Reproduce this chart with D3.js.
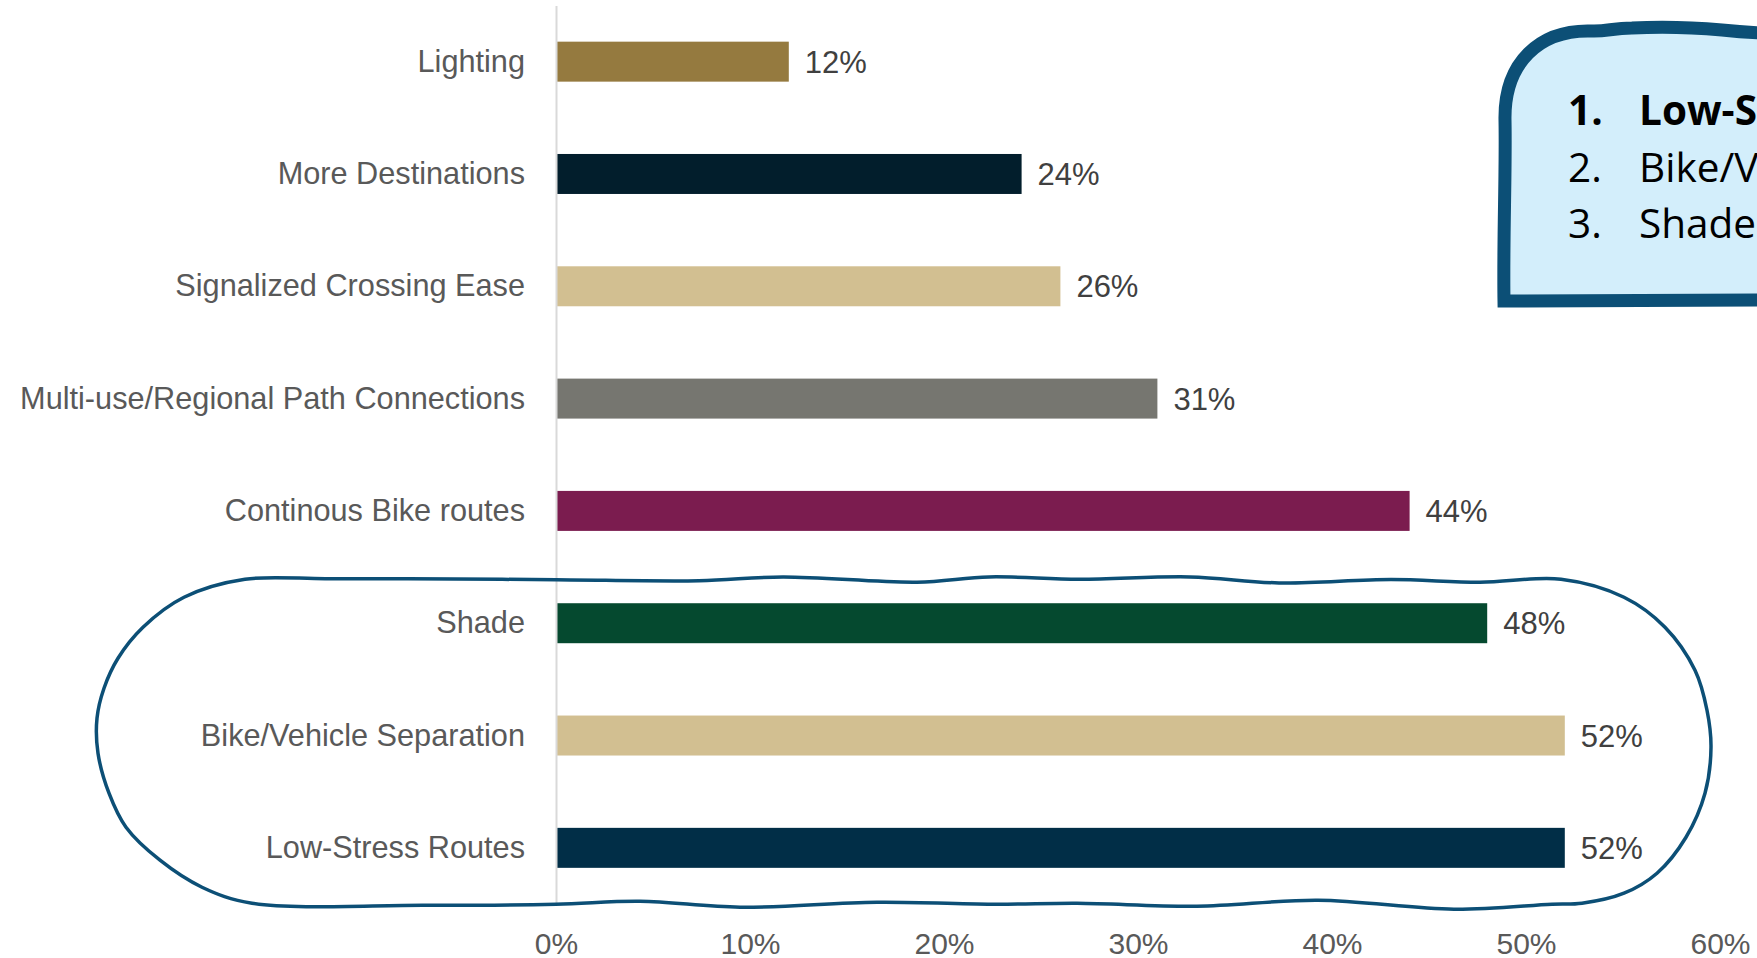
<!DOCTYPE html>
<html>
<head>
<meta charset="utf-8">
<script src="https://cdn.jsdelivr.net/npm/d3@7"></script>
<style>
  html, body { margin: 0; padding: 0; background: #ffffff; overflow: hidden; }
  svg { display: block; }
</style>
</head>
<body>
<svg id="chart" width="1757" height="958"></svg>
<script>
// ---------------- data ----------------
const categories = [
  "Lighting",
  "More Destinations",
  "Signalized Crossing Ease",
  "Multi-use/Regional Path Connections",
  "Continous Bike routes",
  "Shade",
  "Bike/Vehicle Separation",
  "Low-Stress Routes"
];
const values = [12, 24, 26, 31, 44, 48, 52, 52];
const barColors = ["#957A3F", "#021E2C", "#D2BF91", "#767670", "#7B1C4F", "#05492F", "#D2BF91", "#012E47"];
const xTicks = [0, 10, 20, 30, 40, 50, 60];
const calloutItems = ["Low-Stress Routes", "Bike/Vehicle Separation", "Shade"];

// ---------------- layout ----------------
const W = 1757, H = 958;
const svg = d3.select("#chart");
const font = "'Liberation Sans', Arial, sans-serif";

const x = d3.scaleLinear().domain([0, 60]).range([556, 1720]);
const y = d3.scaleBand().domain(categories).range([5.5, 904])
  .paddingInner(0.644).paddingOuter(0.322);

// callout box (top right)
const box = svg.append("g");
box.append("path")
  .attr("d", "M1504,301 C1503,240 1506,170 1505,120 C1504,62 1540,30 1590,31 C1606,32 1612,28 1632,28 C1668,26 1700,28 1722,30 C1740,32 1750,33 1775,33 L1775,300 L1504,301 Z")
  .attr("fill", "#D3EEFB")
  .attr("stroke", "#0C4F76")
  .attr("stroke-width", 13)
  .attr("stroke-linejoin", "miter");

const boxFont = "'Open Sans', 'Noto Sans', sans-serif";
calloutItems.forEach((t, i) => {
  const by = 125 + i * 56.5;
  box.append("text").attr("x", 1568).attr("y", by)
    .attr("font-family", boxFont).attr("font-size", 40.5)
    .attr("font-weight", i === 0 ? 700 : 400).attr("fill", "#000")
    .text((i + 1) + ".");
  box.append("text").attr("x", 1639).attr("y", by)
    .attr("font-family", boxFont).attr("font-size", 40.5)
    .attr("font-weight", i === 0 ? 700 : 400).attr("fill", "#000")
    .text(t);
});

// bars
svg.append("g").selectAll("rect")
  .data(values)
  .join("rect")
  .attr("x", x(0) + 1)
  .attr("y", (d, i) => y(categories[i]))
  .attr("width", d => x(d) - x(0) - 1)
  .attr("height", y.bandwidth())
  .attr("fill", (d, i) => barColors[i]);

// value labels
svg.append("g").selectAll("text")
  .data(values)
  .join("text")
  .attr("x", d => x(d) + 16)
  .attr("y", (d, i) => y(categories[i]) + y.bandwidth() / 2)
  .attr("dy", "0.36em")
  .attr("font-family", font)
  .attr("font-size", 31)
  .attr("fill", "#404040")
  .text(d => d + "%");

// y axis
const yAxis = svg.append("g")
  .attr("transform", `translate(${x(0)},0)`)
  .call(d3.axisLeft(y).tickSize(0).tickPadding(31));
yAxis.select(".domain").attr("stroke", "#D9D9D9").attr("stroke-width", 2);
yAxis.selectAll("text")
  .attr("font-family", font)
  .attr("font-size", 30.7)
  .attr("fill", "#595959")
  .attr("dy", "0.33em");

// x axis (labels only)
const xAxis = svg.append("g")
  .attr("transform", "translate(0,904)")
  .call(d3.axisBottom(x).tickValues(xTicks).tickSize(0).tickFormat(d => d + "%"));
xAxis.select(".domain").remove();
xAxis.selectAll("text")
  .attr("y", 50).attr("dy", 0)
  .attr("font-family", font)
  .attr("font-size", 30)
  .attr("fill", "#595959");

// hand-drawn outline around the top three categories (offsets from the Shade band)
const ax = x(0), ay = y("Shade");
const outlineOffsets = [
  [-311,-24],[-230,-24.5],[-148,-24.5],[0,-23.5],[143,-22.5],[227,-26.3],[361,-21],[433,-26.3],[523,-24],
  [634,-26.3],[723,-20.3],[835,-23.7],[924,-21],[1005,-24],
  [1068,-6],[1109,24],[1139,67],[1151,107],[1155,144],[1149,190],[1130,234],[1101,270],[1068,290],[1026,300],
  [996,301],[898,306],[762,297],[641,303],[521,300],[441,301],[321,299],[184,304],[84,298],[0,301],[-132,302],
  [-304,300],[-354,284],[-396,257],[-430,224],[-447,190],[-458,150],[-459,115],[-452,85],[-438,55],[-413,24],[-372,-6]
];
const outline = d3.line()
  .x(d => ax + d[0]).y(d => ay + d[1])
  .curve(d3.curveCatmullRomClosed.alpha(0.5));
svg.append("path")
  .attr("d", outline(outlineOffsets))
  .attr("fill", "none")
  .attr("stroke", "#0C4F76")
  .attr("stroke-width", 3.5);
</script>
</body>
</html>
